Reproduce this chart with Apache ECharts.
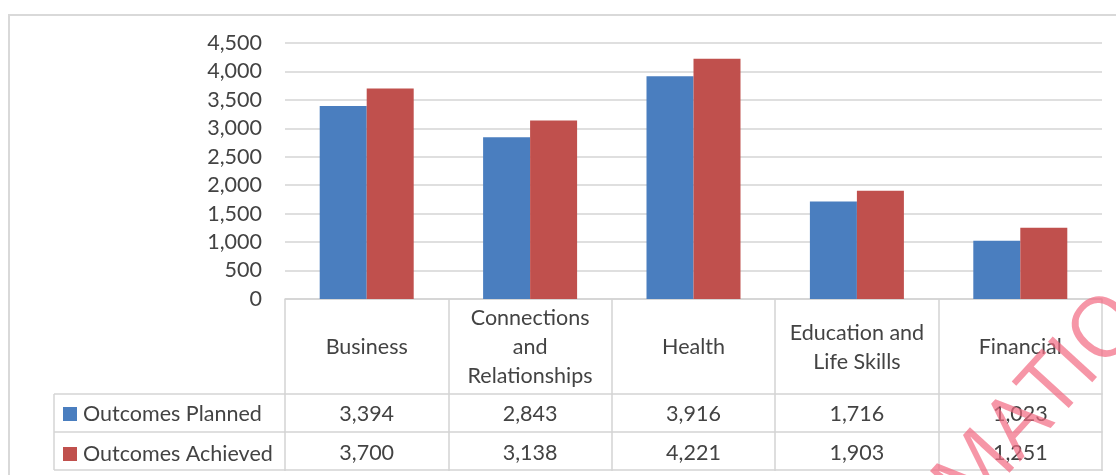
<!DOCTYPE html>
<html>
<head>
<meta charset="utf-8">
<title>Outcomes Planned vs Achieved</title>
<script src="https://cdn.jsdelivr.net/npm/echarts@6/dist/echarts.min.js"></script>
<style>
  html, body { margin: 0; padding: 0; background: #ffffff; }
  #chart { width: 1116px; height: 475px; }
</style>
</head>
<body>
<div id="chart"></div>
<script>
// Outcome areas and the two series shown in the chart and its data table
const categories = ['Business', 'Connections and Relationships', 'Health', 'Education and Life Skills', 'Financial'];
const seriesNames = ['Outcomes Planned', 'Outcomes Achieved'];
const planned = [3394, 2843, 3916, 1716, 1023];
const achieved = [3700, 3138, 4221, 1903, 1251];
const valueMin = 0;
const valueMax = 4500;
const valueStep = 500;

const TEXT = '#434343';
const RULE = '#d4d4d4';
const FONT = 'Lato, "Open Sans", sans-serif';
const FONT_SIZE = 21.5;
const COLORS = ['#4a7ebf', '#c0504d'];

const fmt = v => v.toLocaleString('en-US');

// Greedy word wrap for the table header cells
function wrap(label, maxChars) {
  const words = label.split(' ');
  const lines = [];
  let cur = '';
  words.forEach(w => {
    const next = cur ? cur + ' ' + w : w;
    if (next.length > maxChars && cur) { lines.push(cur); cur = w; }
    else cur = next;
  });
  if (cur) lines.push(cur);
  return lines.join('\n');
}

const chart = echarts.init(document.getElementById('chart'), null, { renderer: 'canvas' });

const GRID = { left: 285, right: 14, top: 43, bottom: 176 };
const HEADER_H = 95, ROW_H = 38;

// One bottom axis per table row: planned row, achieved row, closing rule
const tableAxis = (offset, margin, rowValues) => ({
  type: 'category',
  data: categories,
  position: 'bottom',
  offset: offset,
  boundaryGap: true,
  axisLine: { show: true, lineStyle: { color: RULE, width: 1.5 } },
  axisTick: { show: false },
  axisLabel: {
    show: !!rowValues,
    interval: 0,
    margin: margin,
    verticalAlign: 'middle',
    color: TEXT,
    fontFamily: FONT,
    fontSize: FONT_SIZE,
    formatter: (v, i) => rowValues ? fmt(rowValues[i]) : ''
  },
  splitLine: { show: false }
});

const option = {
  backgroundColor: '#ffffff',
  animation: false,
  color: COLORS,
  grid: GRID,
  legend: {
    orient: 'vertical',
    left: 58,
    top: 398,
    data: seriesNames,
    icon: 'rect',
    itemWidth: 14,
    itemHeight: 14,
    itemGap: 18,
    selectedMode: false,
    textStyle: { color: TEXT, fontFamily: FONT, fontSize: FONT_SIZE, lineHeight: 20, padding: [0, 0, 0, 1] }
  },
  xAxis: [
    {
      // header row of the data table, with the cell dividers drawn as long ticks
      type: 'category',
      data: categories,
      position: 'bottom',
      boundaryGap: true,
      axisLine: { show: true, lineStyle: { color: RULE, width: 1.5 } },
      axisTick: { show: true, alignWithLabel: false, length: HEADER_H + 2 * ROW_H + 1, lineStyle: { color: RULE, width: 1.5 } },
      axisLabel: {
        interval: 0,
        margin: HEADER_H / 2 + 1,
        verticalAlign: 'middle',
        lineHeight: 29,
        color: TEXT,
        fontFamily: FONT,
        fontSize: FONT_SIZE,
        formatter: v => wrap(v, 14)
      }
    },
    tableAxis(HEADER_H, 20, planned),
    tableAxis(HEADER_H + ROW_H, 21, achieved),
    tableAxis(HEADER_H + 2 * ROW_H, 0, null)
  ],
  yAxis: {
    type: 'value',
    min: valueMin,
    max: valueMax,
    interval: valueStep,
    axisLine: { show: false },
    axisTick: { show: false },
    axisLabel: {
      margin: 23,
      color: TEXT,
      fontFamily: FONT,
      fontSize: FONT_SIZE,
      formatter: v => fmt(v)
    },
    splitLine: { lineStyle: { color: RULE, width: 1.5 } }
  },
  series: [
    { name: seriesNames[0], type: 'bar', data: planned, barWidth: 47, barGap: '0%', xAxisIndex: 0 },
    { name: seriesNames[1], type: 'bar', data: achieved, barWidth: 47, barGap: '0%', xAxisIndex: 0 }
  ]
};

chart.setOption(option);

// Legend column of the data table, the outer chart border and the watermark
const top0 = 475 - GRID.bottom + HEADER_H;
const colLeft = 54;
const lineStyle = { stroke: RULE, lineWidth: 1.5 };
const rules = [0, 1, 2].map(k => ({
  type: 'line', silent: true,
  shape: { x1: colLeft, y1: top0 + k * ROW_H, x2: GRID.left, y2: top0 + k * ROW_H },
  style: lineStyle
}));
rules.push({
  type: 'line', silent: true,
  shape: { x1: colLeft, y1: top0, x2: colLeft, y2: top0 + 2 * ROW_H },
  style: lineStyle
});

chart.setOption({
  graphic: rules.concat([
    {
      type: 'rect', silent: true, z: -1,
      shape: { x: 9, y: 15, width: 1200, height: 600 },
      style: { fill: 'none', stroke: '#d9d9d9', lineWidth: 2 }
    },
    {
      type: 'text', silent: true, z: 100,
      x: 1040, y: 404,
      rotation: 0.83,
      style: {
        text: 'MATIO',
        fill: 'rgba(242, 105, 130, 0.7)',
        font: '500 84px "Open Sans", sans-serif',
        textAlign: 'center',
        textVerticalAlign: 'middle'
      }
    }
  ])
});
</script>
</body>
</html>
